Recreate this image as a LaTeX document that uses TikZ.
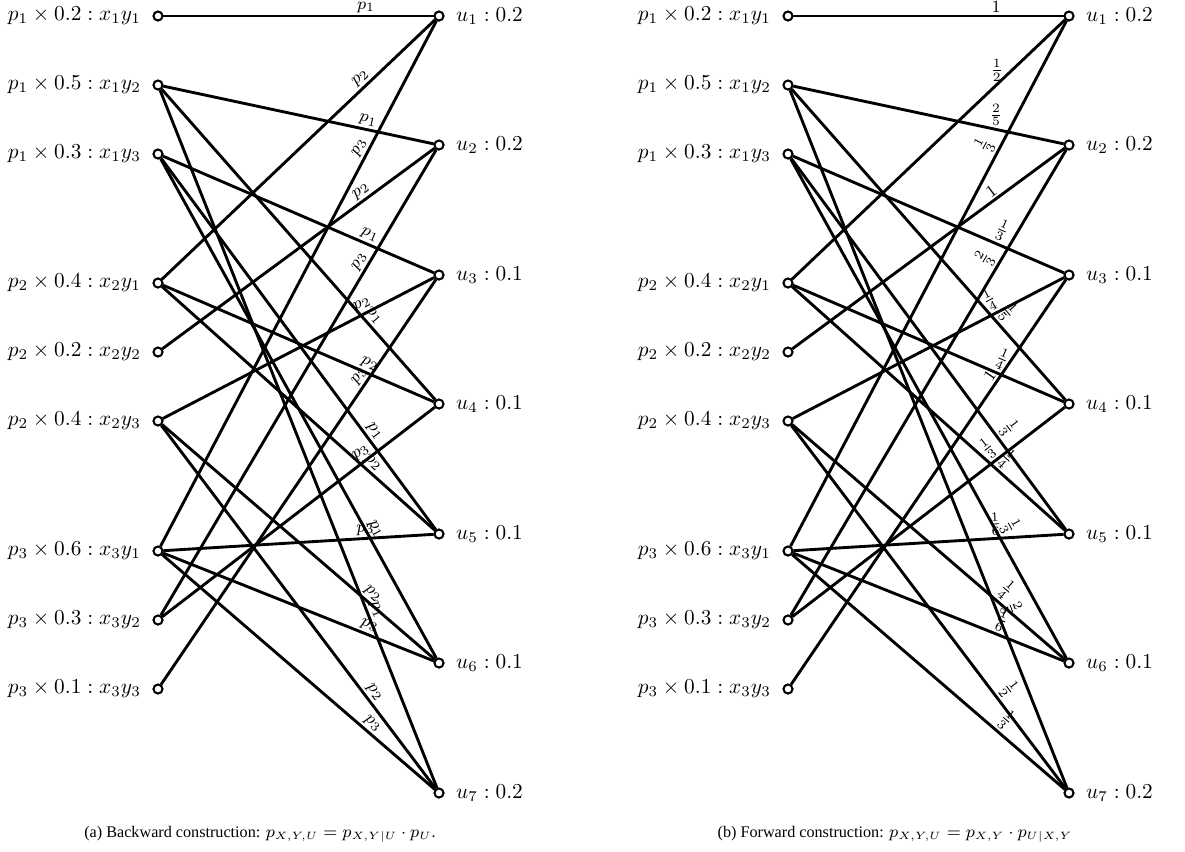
\documentclass[tikz,border=0pt]{standalone}
\usepackage{fontspec}
\newfontfamily\capfont{Liberation Serif}
\begin{document}
\begin{tikzpicture}[x=0.47pt,y=-0.47pt,
  vtx/.style={circle,draw,fill=white,line width=0.9pt,inner sep=0pt,minimum size=4.2pt},
  edge/.style={line width=1.35pt},
  lab/.style={near end,sloped,above,font=\footnotesize,inner sep=1pt},
  labu/.style={near end,above,font=\footnotesize,inner sep=1pt},
  ltxt/.style={label={[label distance=2pt]left:#1}},
  rtxt/.style={label={[label distance=2pt]right:#1}},
  captext/.style={font=\capfont\fontsize{7.6pt}{9pt}\selectfont}]
\useasboundingbox (0,0) rectangle (1185,851);
% ---------------- panel (a) ----------------
\node[vtx,ltxt={$p_1\times 0.2: x_1y_1$}] (A11) at (158,16) {};
\node[vtx,ltxt={$p_1\times 0.5: x_1y_2$}] (A12) at (158,85) {};
\node[vtx,ltxt={$p_1\times 0.3: x_1y_3$}] (A13) at (158,154) {};
\node[vtx,ltxt={$p_2\times 0.4: x_2y_1$}] (A21) at (158,283) {};
\node[vtx,ltxt={$p_2\times 0.2: x_2y_2$}] (A22) at (158,352) {};
\node[vtx,ltxt={$p_2\times 0.4: x_2y_3$}] (A23) at (158,421) {};
\node[vtx,ltxt={$p_3\times 0.6: x_3y_1$}] (A31) at (158,551) {};
\node[vtx,ltxt={$p_3\times 0.3: x_3y_2$}] (A32) at (158,620) {};
\node[vtx,ltxt={$p_3\times 0.1: x_3y_3$}] (A33) at (158,689) {};
\node[vtx,rtxt={$u_1: 0.2$}] (AU1) at (439,16) {};
\node[vtx,rtxt={$u_2: 0.2$}] (AU2) at (439,145) {};
\node[vtx,rtxt={$u_3: 0.1$}] (AU3) at (439,275) {};
\node[vtx,rtxt={$u_4: 0.1$}] (AU4) at (439,404) {};
\node[vtx,rtxt={$u_5: 0.1$}] (AU5) at (439,534) {};
\node[vtx,rtxt={$u_6: 0.1$}] (AU6) at (439,663) {};
\node[vtx,rtxt={$u_7: 0.2$}] (AU7) at (439,793) {};
\begin{scope}[edge]
\draw (A11) -- node[lab]{$p_1$} (AU1);
\draw (A21) -- node[lab]{$p_2$} (AU1);
\draw (A31) -- node[lab]{$p_3$} (AU1);
\draw (A12) -- node[lab]{$p_1$} (AU2);
\draw (A22) -- node[lab]{$p_2$} (AU2);
\draw (A32) -- node[lab]{$p_3$} (AU2);
\draw (A13) -- node[lab]{$p_1$} (AU3);
\draw (A23) -- node[lab]{$p_2$} (AU3);
\draw (A33) -- node[lab]{$p_3$} (AU3);
\draw (A12) -- node[lab]{$p_1$} (AU4);
\draw (A21) -- node[lab]{$p_2$} (AU4);
\draw (A32) -- node[lab]{$p_3$} (AU4);
\draw (A13) -- node[lab]{$p_1$} (AU5);
\draw (A21) -- node[lab]{$p_2$} (AU5);
\draw (A31) -- node[lab]{$p_3$} (AU5);
\draw (A13) -- node[lab]{$p_1$} (AU6);
\draw (A23) -- node[lab]{$p_2$} (AU6);
\draw (A31) -- node[lab]{$p_3$} (AU6);
\draw (A12) -- node[lab]{$p_1$} (AU7);
\draw (A23) -- node[lab]{$p_2$} (AU7);
\draw (A31) -- node[lab]{$p_3$} (AU7);
\end{scope}
\foreach \n in {A11,A12,A13,A21,A22,A23,A31,A32,A33,AU1,AU2,AU3,AU4,AU5,AU6,AU7}
  \node[vtx] at (\n) {};
% ---------------- panel (b) ----------------
\node[vtx,ltxt={$p_1\times 0.2: x_1y_1$}] (B11) at (788,16) {};
\node[vtx,ltxt={$p_1\times 0.5: x_1y_2$}] (B12) at (788,85) {};
\node[vtx,ltxt={$p_1\times 0.3: x_1y_3$}] (B13) at (788,154) {};
\node[vtx,ltxt={$p_2\times 0.4: x_2y_1$}] (B21) at (788,283) {};
\node[vtx,ltxt={$p_2\times 0.2: x_2y_2$}] (B22) at (788,352) {};
\node[vtx,ltxt={$p_2\times 0.4: x_2y_3$}] (B23) at (788,421) {};
\node[vtx,ltxt={$p_3\times 0.6: x_3y_1$}] (B31) at (788,551) {};
\node[vtx,ltxt={$p_3\times 0.3: x_3y_2$}] (B32) at (788,620) {};
\node[vtx,ltxt={$p_3\times 0.1: x_3y_3$}] (B33) at (788,689) {};
\node[vtx,rtxt={$u_1: 0.2$}] (BU1) at (1069,16) {};
\node[vtx,rtxt={$u_2: 0.2$}] (BU2) at (1069,145) {};
\node[vtx,rtxt={$u_3: 0.1$}] (BU3) at (1069,275) {};
\node[vtx,rtxt={$u_4: 0.1$}] (BU4) at (1069,404) {};
\node[vtx,rtxt={$u_5: 0.1$}] (BU5) at (1069,534) {};
\node[vtx,rtxt={$u_6: 0.1$}] (BU6) at (1069,663) {};
\node[vtx,rtxt={$u_7: 0.2$}] (BU7) at (1069,793) {};
\begin{scope}[edge]
\draw (B11) -- node[labu]{$1$} (BU1);
\draw (B21) -- node[labu]{$\frac{1}{2}$} (BU1);
\draw (B31) -- node[lab]{$\frac{1}{3}$} (BU1);
\draw (B12) -- node[labu]{$\frac{2}{5}$} (BU2);
\draw (B22) -- node[lab]{$1$} (BU2);
\draw (B32) -- node[lab]{$\frac{2}{3}$} (BU2);
\draw (B13) -- node[lab]{$\frac{1}{3}$} (BU3);
\draw (B23) -- node[lab]{$\frac{1}{4}$} (BU3);
\draw (B33) -- node[lab]{$1$} (BU3);
\draw (B12) -- node[lab]{$\frac{1}{5}$} (BU4);
\draw (B21) -- node[lab]{$\frac{1}{4}$} (BU4);
\draw (B32) -- node[lab]{$\frac{1}{3}$} (BU4);
\draw (B13) -- node[lab]{$\frac{1}{3}$} (BU5);
\draw (B21) -- node[lab]{$\frac{1}{4}$} (BU5);
\draw (B31) -- node[lab]{$\frac{1}{6}$} (BU5);
\draw (B13) -- node[lab]{$\frac{1}{3}$} (BU6);
\draw (B23) -- node[lab]{$\frac{1}{4}$} (BU6);
\draw (B31) -- node[lab]{$\frac{1}{6}$} (BU6);
\draw (B12) -- node[lab]{$\frac{2}{5}$} (BU7);
\draw (B23) -- node[lab]{$\frac{1}{2}$} (BU7);
\draw (B31) -- node[lab]{$\frac{1}{3}$} (BU7);
\end{scope}
\foreach \n in {B11,B12,B13,B21,B22,B23,B31,B32,B33,BU1,BU2,BU3,BU4,BU5,BU6,BU7}
  \node[vtx] at (\n) {};
% ---------------- captions ----------------
\node[captext] (capA) at (260,834) {(a) Backward construction: $p_{X,Y,U}=p_{X,Y|U}\cdot p_U$.};
\node[captext] (capB) at (895,834) {(b) Forward construction: $p_{X,Y,U}=p_{X,Y}\cdot p_{U|X,Y}$};
\end{tikzpicture}
\end{document}
